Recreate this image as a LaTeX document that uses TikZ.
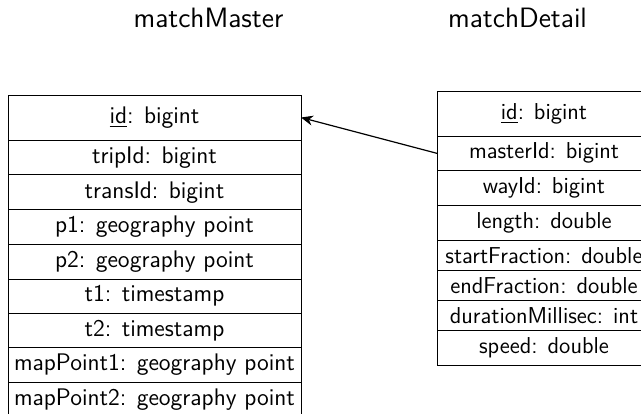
\documentclass[tikz,border=0pt]{standalone}
\usepackage{tikz}
\usetikzlibrary{positioning, arrows.meta}

\tikzset{
  tabletitle/.style={font=\sffamily\fontsize{14pt}{17pt}\selectfont, anchor=base},
  field/.style={draw, line width=0.5pt, outer sep=0pt, inner xsep=1pt},
  masterfield/.style={field, minimum width=146.5pt, inner ysep=3.3pt,
    font=\sffamily\fontsize{12pt}{14pt}\selectfont},
  detailfield/.style={field, minimum width=107pt, inner ysep=3.5pt,
    font=\sffamily\fontsize{11.5pt}{13.5pt}\selectfont},
  keyfield/.style={minimum height=22.5pt}
}

\begin{document}
\begin{tikzpicture}[x=0.5pt, y=-0.5pt]
    \useasboundingbox (0,0) rectangle (641,413);

    \node[tabletitle] (mastertitle) at (208.5,27) {matchMaster};
    \node[tabletitle] (detailtitle) at (517.5,27) {matchDetail};

    % matchMaster
    \node[masterfield, keyfield, anchor=north west]
      (mid) at (8,95) {\underline{id}: bigint};
    \node[masterfield, below=0pt of mid] (tripid) {tripId: bigint};
    \node[masterfield, below=0pt of tripid] (transid) {transId: bigint};
    \node[masterfield, below=0pt of transid] (p1) {p1: geography point};
    \node[masterfield, below=0pt of p1] (p2) {p2: geography point};
    \node[masterfield, below=0pt of p2] (t1) {t1: timestamp};
    \node[masterfield, below=0pt of t1] (t2) {t2: timestamp};
    \node[masterfield, below=0pt of t2] (mappoint1) {mapPoint1: geography point};
    \node[masterfield, below=0pt of mappoint1] (mappoint2) {mapPoint2: geography point};

    % matchDetail
    \node[detailfield, keyfield, anchor=north west]
      (did) at (437,91) {\underline{id}: bigint};
    \node[detailfield, below=0pt of did] (masterid) {masterId: bigint};
    \node[detailfield, below=0pt of masterid] (wayid) {wayId: bigint};
    \node[detailfield, below=0pt of wayid] (length) {length: double};
    \node[detailfield, below=0pt of length] (startfraction) {startFraction: double};
    \node[detailfield, below=0pt of startfraction] (endfraction) {endFraction: double};
    \node[detailfield, below=0pt of endfraction] (duration) {durationMillisec: int};
    \node[detailfield, below=0pt of duration] (speed) {speed: double};

    \draw[-{Stealth[length=6pt, width=5pt]}, line width=0.6pt] (masterid.west) -- (mid.east);
  \end{tikzpicture}
\end{document}
